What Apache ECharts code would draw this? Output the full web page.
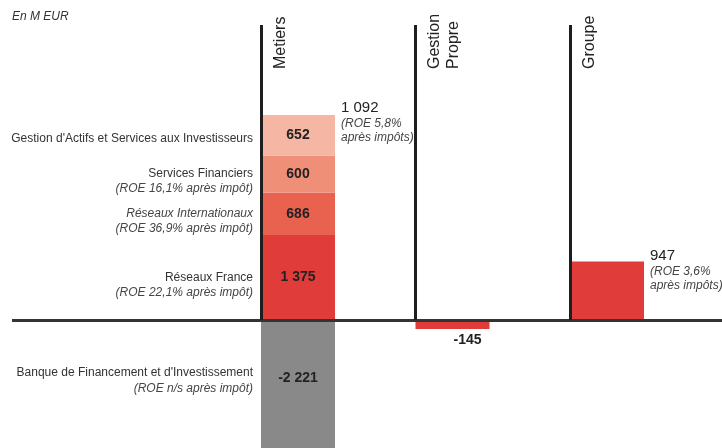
<!DOCTYPE html>
<html>
<head>
<meta charset="utf-8">
<script src="https://cdn.jsdelivr.net/npm/echarts@6/dist/echarts.min.js"></script>
<style>
  html, body { margin: 0; padding: 0; background: #fff; }
  #chart { width: 722px; height: 448px; }
</style>
</head>
<body>
<div id="chart"></div>
<script>
// Colonnes (categories)
const columns = ['Metiers', 'Gestion\nPropre', 'Groupe'];

// Segments du pilier Metiers, de bas en haut
const segNames = [
  "Banque de Financement et d'Investissement",
  'Réseaux France',
  'Réseaux Internationaux',
  'Services Financiers',
  "Gestion d'Actifs et Services aux Investisseurs",
];
const segRoe = [
  '(ROE n/s après impôt)',
  '(ROE 22,1% après impôt)',
  '(ROE 36,9% après impôt)',
  '(ROE 16,1% après impôt)',
  '',
];
const segValues = [-2221, 1375, 686, 600, 652];

const gestionPropre = -145;
const roeMetiers = ['(ROE 5,8%', 'après impôts)'];
const roeGroupe = ['(ROE 3,6%', 'après impôts)'];

// totaux
const metiersTotal = segValues.reduce((a, b) => a + b, 0);
const metiersTop = segValues.filter((v) => v > 0).reduce((a, b) => a + b, 0);
const groupeTotal = metiersTotal + gestionPropre;

const segColors = ['#898989', '#e03c3a', '#e8624f', '#ef8f78', '#f5b6a4'];
const red = '#e03c3a';
const italicNames = ['Réseaux Internationaux'];
const yMin = -2070;
const yMax = 4770;

const font = "'Liberation Sans', Arial, sans-serif";

const fmt = (v) => String(v).replace(/\B(?=(\d{3})+(?!\d))/g, ' ');

const valueLabel = {
  show: true,
  position: 'inside',
  fontWeight: 'bold',
  fontSize: 14,
  color: '#222',
  formatter: (p) => fmt(p.value),
};

const totalRich = {
  v: { fontSize: 15, color: '#222', lineHeight: 18 },
  r: { fontSize: 12, color: '#444', fontStyle: 'italic', lineHeight: 14 },
};
const totalText = (v, roe) => '{v|' + fmt(v) + '}\n{r|' + roe.join('}\n{r|') + '}';

const series = [];
segValues.forEach((v, i) => {
  const neg = v < 0;
  // barre invisible a gauche, porte le libelle
  series.push({
    type: 'bar',
    stack: 'names',
    barWidth: 74,
    barGap: '0%',
    clip: false,
    silent: true,
    itemStyle: { color: 'transparent' },
    data: [v, null, null],
    label: {
      show: true,
      position: 'insideRight',
      distance: 8,
      verticalAlign: 'top',
      offset: [0, neg ? -23 : segRoe[i] ? -7.5 : -4.5],
      formatter: () => {
        const st = italicNames.includes(segNames[i]) ? 'i' : 'n';
        let s = '{' + st + '|' + segNames[i] + '}';
        if (segRoe[i]) s += '\n{i|' + segRoe[i] + '}';
        return s;
      },
      rich: {
        n: { fontSize: 12, color: '#333', lineHeight: 15 },
        i: { fontSize: 12, color: '#444', fontStyle: 'italic', lineHeight: 15 },
      },
    },
  });
  series.push({
    type: 'bar',
    stack: 'metiers',
    barWidth: 74,
    barGap: '0%',
    clip: false,
    itemStyle: { color: segColors[i] },
    data: [v, null, null],
    label: Object.assign({}, valueLabel, { offset: [0, neg ? -11 : 0] }),
  });
});

series.push({
  type: 'bar',
  stack: 'metiers',
  barWidth: 74,
  barGap: '0%',
  clip: false,
  itemStyle: { color: red },
  data: [
    null,
    {
      value: gestionPropre,
      label: Object.assign({}, valueLabel, { position: 'bottom', distance: 4, offset: [15, 0] }),
    },
    {
      value: groupeTotal,
      label: {
        show: true,
        position: ['100%', 0],
        offset: [6, -15],
        formatter: (p) => totalText(p.value, roeGroupe),
        rich: totalRich,
      },
    },
  ],
});

// serie vide : axes, traits verticaux et total Metiers
series.push({
  type: 'line',
  data: [],
  silent: true,
  markLine: {
    silent: true,
    symbol: 'none',
    label: { show: false },
    lineStyle: { color: '#1e1e1e', width: 3, type: 'solid' },
    data: [
      [
        { x: 12, yAxis: 0, lineStyle: { color: '#333', width: 3 } },
        { x: 722, yAxis: 0 },
      ],
    ].concat(columns.map((c) => [{ coord: [c, 0] }, { coord: [c, yMax] }])),
  },
  markPoint: {
    symbol: 'circle',
    symbolSize: 0,
    silent: true,
    data: [{ coord: [columns[0], metiersTop], value: metiersTotal }],
    label: {
      show: true,
      position: 'right',
      distance: 0,
      verticalAlign: 'top',
      offset: [80, -16],
      formatter: (p) => totalText(p.value, roeMetiers),
      rich: totalRich,
    },
  },
});

const chart = echarts.init(document.getElementById('chart'));

chart.setOption({
  animation: false,
  textStyle: { fontFamily: font },
  title: {
    text: 'En M EUR',
    left: 7,
    top: 6,
    textStyle: { fontSize: 12, fontStyle: 'italic', fontWeight: 'normal', color: '#333', fontFamily: font },
  },
  grid: { left: 261, right: 152, top: 25, bottom: 0 },
  xAxis: {
    type: 'category',
    data: columns,
    boundaryGap: false,
    position: 'top',
    offset: -44,
    axisLine: { show: false, onZero: false },
    axisTick: { show: false },
    splitLine: { show: false },
    axisLabel: {
      interval: 0,
      rotate: -90,
      margin: 0,
      verticalAlign: 'top',
      padding: [10, 0, 0, 0],
      fontSize: 16,
      lineHeight: 19,
      color: '#222',
    },
  },
  yAxis: { type: 'value', min: yMin, max: yMax, show: false },
  series: series,
});

window.addEventListener('resize', function () {
  chart.resize();
});
</script>
</body>
</html>
